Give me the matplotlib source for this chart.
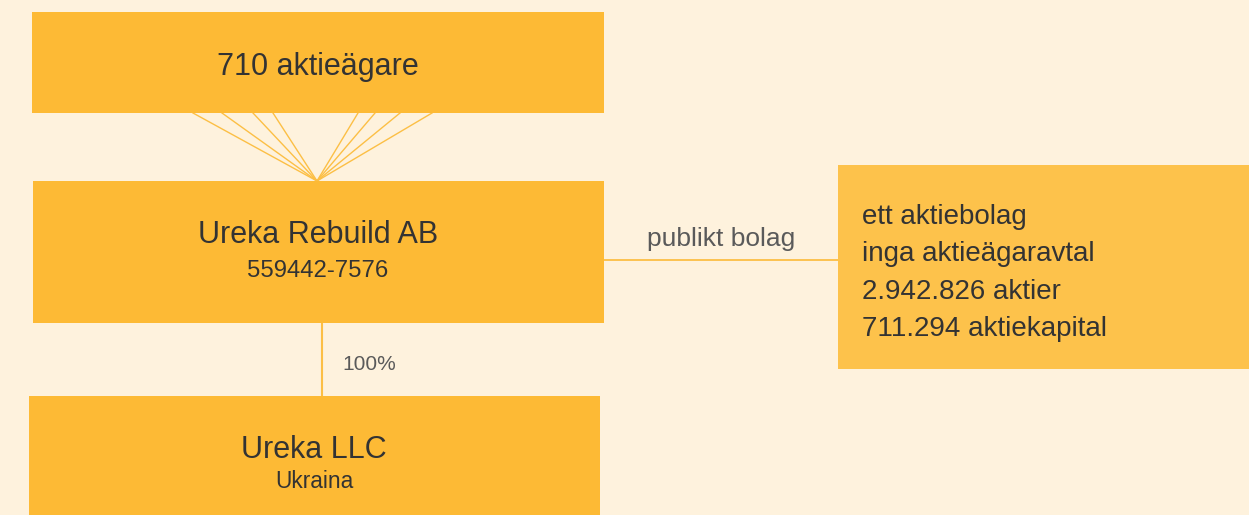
import matplotlib
matplotlib.use("Agg")
import matplotlib.pyplot as plt
from matplotlib.patches import Rectangle

plt.rcParams['font.family'] = ['Liberation Sans', 'DejaVu Sans']

# Diagram content
top_label = "710 aktieägare"
parent_name = "Ureka Rebuild AB"
parent_orgnr = "559442-7576"
child_name = "Ureka LLC"
child_country = "Ukraina"
ownership_label = "100%"
link_label = "publikt bolag"
facts = ["ett aktiebolag", "inga aktieägaravtal", "2.942.826 aktier", "711.294 aktiekapital"]
fan_count = 8

BG = "#FEF2DD"
BOX = "#FDBA35"
BOX2 = "#FDC24B"
LINE = "#FCBF45"
TXT = "#333333"
GREY = "#5a5a5a"

W, H = 1249, 515
fig = plt.figure(figsize=(W / 100, H / 100), dpi=100)
fig.patch.set_facecolor(BG)
ax = fig.add_axes([0, 0, 1, 1])
ax.set_xlim(0, W)
ax.set_ylim(H, 0)
ax.axis('off')
ax.set_facecolor(BG)

def box(x0, y0, x1, y1, color):
    ax.add_patch(Rectangle((x0, y0), x1 - x0, y1 - y0, facecolor=color, edgecolor='none', zorder=2))

# boxes
box(32, 12, 604, 113, BOX)
box(33, 181, 604, 323, BOX)
box(29, 396, 600, 515, BOX)
box(838, 165, 1249, 369, BOX2)

# fan lines
fan_x = [193, 222, 253, 273, 358, 375, 400, 432]
for fx in fan_x[:fan_count]:
    ax.plot([fx, 317], [113, 181], color=LINE, lw=1.0, zorder=1)

# connectors
ax.plot([604, 838], [260, 260], color=LINE, lw=1.3, zorder=1)
ax.plot([322, 322], [323, 396], color=LINE, lw=1.5, zorder=1)

# texts
ax.text(318, 67, top_label, ha='center', va='center', fontsize=22, color=TXT, zorder=3)
ax.text(318, 235, parent_name, ha='center', va='center', fontsize=22, color=TXT, zorder=3)
ax.text(318, 271, parent_orgnr, ha='center', va='center', fontsize=17.2, color=TXT, zorder=3)
ax.text(314, 450, child_name, ha='center', va='center', fontsize=22, color=TXT, zorder=3)
ax.text(314, 482, child_country, ha='center', va='center', fontsize=16.4, color=TXT, zorder=3)
ax.text(721, 239, link_label, ha='center', va='center', fontsize=19, color=GREY, zorder=3)
ax.text(369, 364, ownership_label, ha='center', va='center', fontsize=15, color=GREY, zorder=3)

for i, line in enumerate(facts):
    ax.text(862, 217 + i * 37.3, line, ha='left', va='center', fontsize=20, color=TXT, zorder=3)

fig.savefig("out.png", dpi=100, facecolor=BG)
